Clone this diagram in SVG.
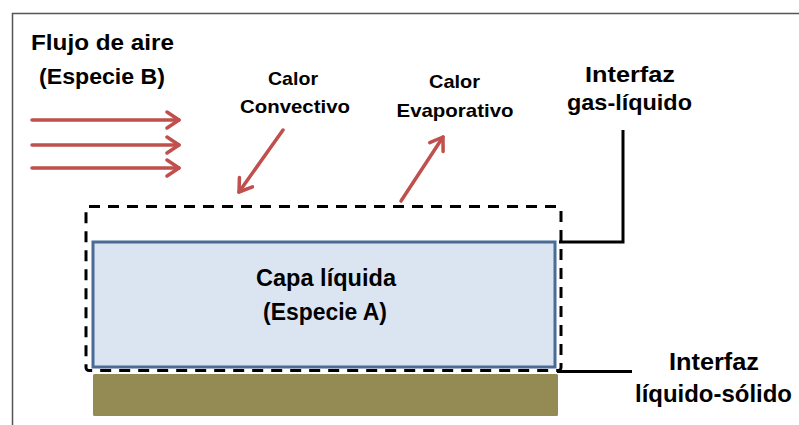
<svg xmlns="http://www.w3.org/2000/svg" width="799" height="425" viewBox="0 0 799 425">
<defs>
<style>
text{font-family:"Liberation Sans",Arial,sans-serif;font-weight:bold;fill:#000;text-anchor:middle}
.big{font-size:22px}
.mid{font-size:23px}
.sm{font-size:19px}
.red{stroke:#c0504d;stroke-width:3.5;fill:none;stroke-linecap:round}
.blk{stroke:#000;stroke-width:3;fill:none}
</style>
<marker id="ah" markerUnits="userSpaceOnUse" markerWidth="20" markerHeight="20" viewBox="-14 -10 16 20" refX="0" refY="0" orient="auto">
<path d="M-12,-8 L0,0 L-12,8" fill="none" stroke="#c0504d" stroke-width="3.5" stroke-linecap="round" stroke-linejoin="round"/>
</marker>
</defs>
<rect width="799" height="425" fill="#fff"/>
<path d="M12.5,425 V13.5 H799" fill="none" stroke="#555" stroke-width="1.5"/>
<g id="solido">
<rect x="93" y="374" width="465" height="42" rx="1.5" fill="#948a54"/>
</g>
<g id="capa-liquida">
<rect x="93" y="242" width="462" height="125" fill="#dbe5f1" stroke="#4a6b96" stroke-width="3"/>
<text class="mid" x="326" y="286" textLength="140" lengthAdjust="spacingAndGlyphs">Capa líquida</text>
<text class="mid" x="325" y="320" textLength="124" lengthAdjust="spacingAndGlyphs">(Especie A)</text>
</g>
<g id="volumen-control">
<rect x="86" y="206.5" width="475" height="164" rx="3" fill="none" stroke="#000" stroke-width="3" stroke-dasharray="11,8"/>
</g>
<g id="connectors">
<line class="red" x1="32" y1="120" x2="179" y2="120" marker-end="url(#ah)"/>
<line class="red" x1="32" y1="145" x2="179" y2="145" marker-end="url(#ah)"/>
<line class="red" x1="32" y1="168" x2="179" y2="168" marker-end="url(#ah)"/>
<line class="red" x1="283" y1="130" x2="239" y2="192" marker-end="url(#ah)"/>
<line class="red" x1="401" y1="201" x2="443" y2="137" marker-end="url(#ah)"/>
<path class="blk" d="M623,130 V242 H559"/>
<path class="blk" d="M557,371.5 H632"/>
</g>
<g id="flujo-aire">
<text class="big" x="102.5" y="50" textLength="143" lengthAdjust="spacingAndGlyphs">Flujo de aire</text>
<text class="big" x="102" y="84" textLength="126" lengthAdjust="spacingAndGlyphs">(Especie B)</text>
</g>
<g id="calor-convectivo">
<text class="sm" x="293" y="85" textLength="50" lengthAdjust="spacingAndGlyphs">Calor</text>
<text class="sm" x="295" y="113" textLength="110" lengthAdjust="spacingAndGlyphs">Convectivo</text>
</g>
<g id="calor-evaporativo">
<text class="sm" x="454.5" y="88" textLength="51" lengthAdjust="spacingAndGlyphs">Calor</text>
<text class="sm" x="455" y="117" textLength="117" lengthAdjust="spacingAndGlyphs">Evaporativo</text>
</g>
<g id="interfaz-gas-liquido">
<text class="big" x="630" y="82" textLength="90" lengthAdjust="spacingAndGlyphs">Interfaz</text>
<text class="big" x="629.5" y="110" textLength="125" lengthAdjust="spacingAndGlyphs">gas-líquido</text>
</g>
<g id="interfaz-liquido-solido">
<text class="mid" x="714" y="370" textLength="90" lengthAdjust="spacingAndGlyphs">Interfaz</text>
<text class="mid" x="713.5" y="402" textLength="157" lengthAdjust="spacingAndGlyphs">líquido-sólido</text>
</g>
</svg>
